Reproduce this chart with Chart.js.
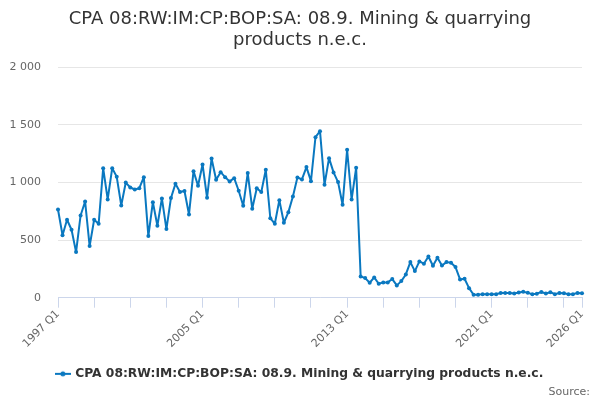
<!DOCTYPE html>
<html>
<head>
<meta charset="utf-8">
<script src="https://cdn.jsdelivr.net/npm/chart.js@4/dist/chart.umd.min.js"></script>
<style>
  html, body { margin: 0; padding: 0; background: #fff; }
  #wrap { width: 600px; height: 400px; }
</style>
</head>
<body>
<div id="wrap"><canvas id="chart" width="600" height="400"></canvas></div>
<script>
// quarterly series, 1997 Q1 .. 2026 Q1
const firstYear = 1997;
const seriesName = 'CPA 08:RW:IM:CP:BOP:SA: 08.9. Mining & quarrying products n.e.c.';
const values = [
  766, 543, 677, 590, 396, 714, 836, 448, 677, 642,
  1125, 853, 1125, 1050, 801, 1000, 957, 940, 951, 1047,
  535, 830, 625, 862, 596, 865, 990, 918, 927, 723,
  1099, 972, 1157, 868, 1209, 1024, 1090, 1047, 1010, 1038,
  929, 798, 1082, 773, 951, 917, 1111, 691, 642, 847,
  651, 743, 879, 1044, 1027, 1134, 1012, 1394, 1446, 981,
  1212, 1088, 1004, 807, 1285, 853, 1128, 185, 170, 130,
  176, 121, 133, 133, 162, 107, 144, 202, 309, 231,
  315, 295, 358, 278, 347, 280, 309, 304, 266, 159,
  165, 83, 26, 26, 31, 31, 31, 31, 40, 40,
  40, 37, 46, 52, 42, 31, 35, 49, 36, 48,
  31, 40, 38, 31, 31, 40, 38
];
const yTicks = [0, 500, 1000, 1500, 2000];

const categories = [];
for (let i = 0; i < values.length; i++) {
  categories.push((firstYear + Math.floor(i / 4)) + ' Q' + (i % 4 + 1));
}

const lineColor = '#0a78c0';

// little line + dot marker for the legend
const marker = document.createElement('canvas');
marker.width = 16;
marker.height = 8;
const mctx = marker.getContext('2d');
mctx.strokeStyle = lineColor;
mctx.lineWidth = 2;
mctx.beginPath();
mctx.moveTo(0, 4);
mctx.lineTo(16, 4);
mctx.stroke();
mctx.fillStyle = lineColor;
mctx.beginPath();
mctx.arc(8, 4, 2.5, 0, Math.PI * 2);
mctx.fill();

// "Source:" credit in the bottom right corner
const sourceNote = {
  id: 'sourceNote',
  afterDraw(chart) {
    const c = chart.ctx;
    c.save();
    c.font = '11px "DejaVu Sans"';
    c.fillStyle = '#666';
    c.textAlign = 'right';
    c.textBaseline = 'middle';
    c.fillText('Source:', 590, 392);
    c.restore();
  }
};

const ctx = document.getElementById('chart').getContext('2d');
new Chart(ctx, {
  type: 'line',
  data: {
    labels: categories,
    datasets: [{
      label: seriesName,
      data: values,
      borderColor: lineColor,
      backgroundColor: lineColor,
      borderWidth: 2,
      borderJoinStyle: 'round',
      borderCapStyle: 'round',
      pointRadius: 2,
      pointBorderWidth: 0,
      pointHoverRadius: 3,
      tension: 0
    }]
  },
  plugins: [sourceNote],
  options: {
    responsive: false,
    animation: false,
    layout: { padding: { left: 9, right: 9, top: 6, bottom: 10 } },
    scales: {
      x: {
        offset: false,
        afterFit: function(scale) { scale.height = 64; },
        grid: {
          drawOnChartArea: false,
          drawTicks: true,
          tickLength: 10,
          color: '#ccd6eb'
        },
        border: { color: '#ccd6eb' },
        ticks: {
          autoSkip: false,
          maxRotation: 45,
          minRotation: 45,
          padding: 0,
          color: '#666',
          font: { family: 'DejaVu Sans', size: 11 },
          callback: function(val, i) {
            const last = values.length - 1;
            if (i % 32 === 0 || i === last) return categories[i];
            if (i % 8 === 0) return '';
            return null;
          }
        }
      },
      y: {
        min: 0,
        max: 2000,
        afterBuildTicks: function(scale) {
          scale.ticks = yTicks.map(v => ({ value: v }));
        },
        afterFit: function(scale) { scale.width = 49; },
        grid: { color: '#e6e6e6', drawTicks: false },
        border: { display: false },
        ticks: {
          padding: 17,
          color: '#666',
          font: { family: 'DejaVu Sans', size: 11 },
          callback: v => String(v).replace(/\B(?=(\d{3})+(?!\d))/g, ' ')
        }
      },
      // empty spacer on the right so the plot stops short of the edge
      spacer: {
        position: 'right',
        afterFit: function(scale) { scale.width = 9; },
        grid: { display: false },
        border: { display: false },
        ticks: { display: false }
      }
    },
    plugins: {
      title: {
        display: true,
        text: ['CPA 08:RW:IM:CP:BOP:SA: 08.9. Mining & quarrying', 'products n.e.c.'],
        color: '#333',
        font: { family: 'DejaVu Sans', size: 18, weight: 'normal', lineHeight: 1.15 },
        padding: { top: 3, bottom: 17 }
      },
      legend: {
        position: 'bottom',
        labels: {
          usePointStyle: true,
          color: '#333',
          padding: 6,
          font: { family: 'DejaVu Sans', size: 12.3, weight: 'bold' },
          generateLabels: function(chart) {
            const items = Chart.defaults.plugins.legend.labels.generateLabels(chart);
            items.forEach(it => { it.pointStyle = marker; });
            return items;
          }
        }
      },
      tooltip: { enabled: false }
    }
  }
});
</script>
</body>
</html>
